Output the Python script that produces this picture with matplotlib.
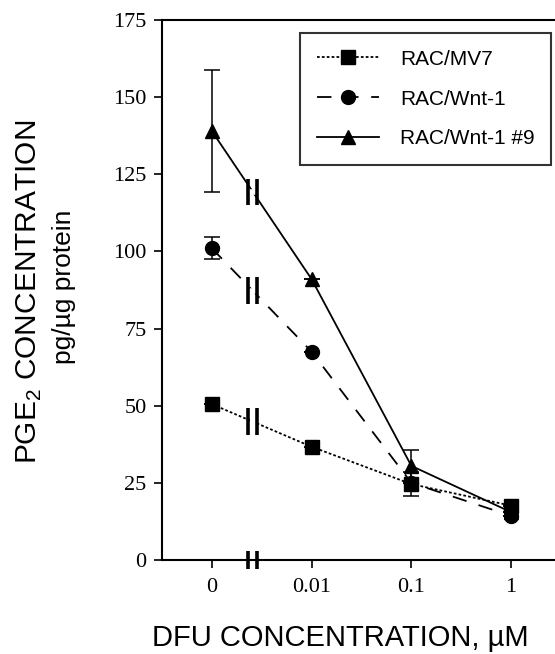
import matplotlib
matplotlib.use('Agg')
import matplotlib.pyplot as plt
from matplotlib.lines import Line2D
import numpy as np

plt.rcParams['mathtext.fontset'] = 'custom'
plt.rcParams['mathtext.rm'] = 'Liberation Sans'

# data
conc_labels = ['0', '0.01', '0.1', '1']
mv7 = [50.5, 36.7, 24.6, 17.6]
mv7_err = [0, 0, 4, 0]
wnt1 = [101, 67.5, 25, 14.3]
wnt1_err = [3.6, 0, 0, 0]
wnt1_9 = [139, 91, 30.5, 15.5]
wnt1_9_err = [19.7, 0, 5.1, 0]
names = ['RAC/MV7', 'RAC/Wnt-1', 'RAC/Wnt-1 #9']

x = np.arange(len(conc_labels))

fig = plt.figure(figsize=(5.55, 6.54), dpi=100)
ax = fig.add_axes([162/555, 94/654, 399/555, 540/654])

styles = [((0, (1.5, 1.2)), 's'), ((0, (8, 7)), 'o'), ('-', '^')]
handles = []
for series, err, (ls, mk), name in zip((mv7, wnt1, wnt1_9),
                                       (mv7_err, wnt1_err, wnt1_9_err),
                                       styles, names):
    ax.errorbar(x, series, yerr=err, color='black', ls=ls, lw=1.3,
                marker=mk, ms=10, capsize=6, elinewidth=1.1, capthick=1.1)
    handles.append(Line2D([], [], color='black', ls=ls, lw=1.3, marker=mk,
                          ms=10, label=name))

# break marks between 0 and 0.01
bx = 0.41
for series in (mv7, wnt1, wnt1_9):
    by = np.interp(bx, x, series)
    ax.plot([bx - 0.03, bx + 0.04], [by, by], color='white', lw=4, zorder=4,
            solid_capstyle='butt')
    for dx in (-0.043, 0.043):
        ax.plot([bx + dx, bx + dx], [by - 4.3, by + 4.3], color='black',
                lw=2.6, zorder=5, solid_capstyle='butt')
for dx in (-0.043, 0.043):
    ax.plot([bx + dx, bx + dx], [-3, 3], color='black', lw=2.6, zorder=5,
            clip_on=False, solid_capstyle='butt')

ax.set_xlim(-0.5, 3.5)
ax.set_ylim(0, 175)
ax.set_xticks(x)
ax.set_xticklabels(conc_labels, fontfamily='Liberation Serif', fontsize=16)
ax.set_yticks(np.arange(0, 176, 25))
ax.set_yticklabels([str(v) for v in range(0, 176, 25)],
                   fontfamily='Liberation Serif', fontsize=16)
ax.tick_params(direction='out', length=6, width=1.2, pad=5)
ax.tick_params(axis='x', pad=7)
for s in ax.spines.values():
    s.set_linewidth(1.5)

leg = ax.legend(handles=handles, loc='upper left',
                bbox_to_anchor=(138/399, 1 - 13/540),
                prop={'family': 'Liberation Sans', 'size': 15},
                frameon=True, fancybox=False, edgecolor='black',
                handlelength=3.0, handletextpad=1.0, labelspacing=1.0,
                borderpad=0.8, borderaxespad=0)
leg.get_frame().set_linewidth(1.5)

fig.text(152/555, 1 - 638/654, 'DFU CONCENTRATION, \u00b5M', ha='left',
         va='center', fontfamily='Liberation Sans', fontsize=21)
fig.text(29/555, 1 - 292/654, 'PGE$_2$ CONCENTRATION', rotation=90,
         ha='center', va='center', fontfamily='Liberation Sans', fontsize=21.5)
fig.text(64/555, 1 - 287/654, 'pg/\u00b5g protein', rotation=90,
         ha='center', va='center', fontfamily='Liberation Sans', fontsize=19)

fig.savefig('out.png', dpi=100)
